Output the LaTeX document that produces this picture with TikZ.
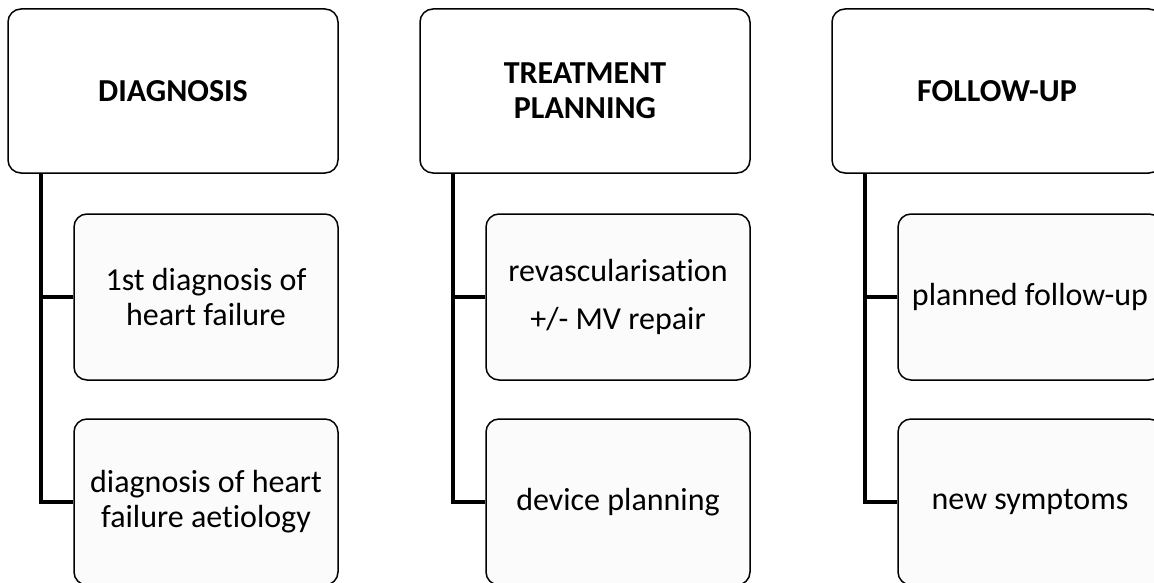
\documentclass[tikz,border=0pt]{standalone}
\usepackage{fontspec}
\setmainfont{Carlito}[Ligatures=CommonOff]
\usepackage{xcolor}
\usetikzlibrary{positioning}
\definecolor{lightfill}{HTML}{FBFBFB}
\tikzstyle{stage} = [rectangle, rounded corners=13pt, minimum width=330pt, minimum height=164pt, align=center, draw=black, line width=1.5pt, fill=white, font=\bfseries\fontsize{32}{35}\selectfont]
\tikzstyle{task} = [rectangle, rounded corners=13pt, minimum width=264pt, minimum height=166pt, align=center, draw=black, line width=1.5pt, fill=lightfill, font=\fontsize{32}{35}\selectfont]
\tikzstyle{link} = [line width=4pt]

\begin{document}
\begin{tikzpicture}[node distance=412pt]
    \useasboundingbox (0,0) rectangle (1154pt,-583pt);
    \clip (0,0) rectangle (1154pt,-583pt);
    \node (diag) [stage] at (173pt,-91pt) {DIAGNOSIS};
    \node (treat) [stage, right of = diag] {TREATMENT\\PLANNING};
    \node (follow) [stage, right of = treat] {FOLLOW-UP};
    \node (diag1) [task, node distance=206pt, below of = diag, xshift=33pt] {1st diagnosis of\\heart failure};
    \node (diag2) [task, node distance=205pt, below of = diag1] {diagnosis of heart\\failure aetiology};
    \node (treat1) [task, node distance=206pt, below of = treat, xshift=33pt] {revascularisat\kern0pt ion\\[13pt]+/- MV repair};
    \node (treat2) [task, node distance=205pt, below of = treat1] {device planning};
    \node (follow1) [task, node distance=206pt, below of = follow, xshift=33pt] {planned follow-up};
    \node (follow2) [task, node distance=205pt, below of = follow1] {new symptoms};
    \draw[link] ([xshift=34pt]diag.south west) |- (diag2.west);
    \draw[link] ([xshift=34pt]diag.south west) |- (diag1.west);
    \draw[link] ([xshift=34pt]treat.south west) |- (treat2.west);
    \draw[link] ([xshift=34pt]treat.south west) |- (treat1.west);
    \draw[link] ([xshift=34pt]follow.south west) |- (follow2.west);
    \draw[link] ([xshift=34pt]follow.south west) |- (follow1.west);
\end{tikzpicture}
\end{document}
